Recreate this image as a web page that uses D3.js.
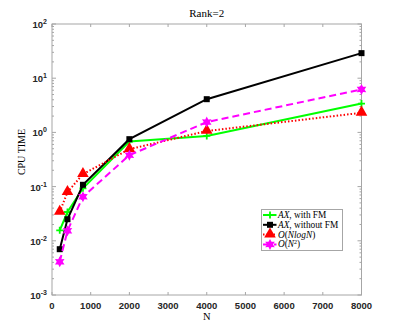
<!DOCTYPE html>
<html>
<head>
<meta charset="utf-8">
<script src="https://cdn.jsdelivr.net/npm/d3@7"></script>
<style>
  body { margin: 0; background: #fff; }
  svg { display: block; }
</style>
</head>
<body>
<div id="chart"></div>
<script>
// Problem sizes
var sizes = [200, 400, 800, 2000, 4000, 8000];
// CPU times for each method
var withFM = [0.0156, 0.034, 0.093, 0.68, 0.86, 3.4];
var withoutFM = [0.007, 0.025, 0.108, 0.75, 4.1, 29];
var nlogn = [0.034, 0.079, 0.17, 0.49, 1.06, 2.3];
var nsquare = [0.0041, 0.0153, 0.065, 0.38, 1.55, 6.2];

var xTicks = [0, 1000, 2000, 3000, 4000, 5000, 6000, 7000, 8000];
var yTicks = [1e-3, 1e-2, 1e-1, 1e0, 1e1, 1e2];
var yExps = ["-3", "-2", "-1", "0", "1", "2"];

function init() {
  var W = 399, H = 332;
  var mLeft = 52, mRight = 361.5, mTop = 24, mBottom = 295;

  var svg = d3.select("#chart").append("svg").attr("width", W).attr("height", H);

  var x = d3.scaleLinear().domain([0, 8000]).range([mLeft, mRight]);
  var y = d3.scaleLog().domain([1e-3, 1e2]).range([mBottom, mTop]);

  var axisColor = "#a6a6a6";

  // axis box
  svg.append("rect")
    .attr("x", mLeft).attr("y", mTop)
    .attr("width", mRight - mLeft).attr("height", mBottom - mTop)
    .attr("fill", "none").attr("stroke", axisColor).attr("stroke-width", 1);

  // x ticks (inward, top and bottom)
  xTicks.forEach(function (t) {
    svg.append("line").attr("x1", x(t)).attr("x2", x(t))
      .attr("y1", mBottom).attr("y2", mBottom - 3).attr("stroke", axisColor);
    svg.append("line").attr("x1", x(t)).attr("x2", x(t))
      .attr("y1", mTop).attr("y2", mTop + 3).attr("stroke", axisColor);
    svg.append("text").attr("x", x(t)).attr("y", mBottom + 14)
      .attr("text-anchor", "middle")
      .style("font-family", "Liberation Sans, Arial, sans-serif")
      .style("font-weight", "bold").style("font-size", "9.5px")
      .attr("fill", "#262626").text(t);
  });

  // y ticks, major and minor on both sides
  for (var e = -3; e < 2; e++) {
    for (var m = 2; m <= 9; m++) {
      var v = m * Math.pow(10, e);
      svg.append("line").attr("x1", mLeft).attr("x2", mLeft + 2)
        .attr("y1", y(v)).attr("y2", y(v)).attr("stroke", axisColor);
      svg.append("line").attr("x1", mRight).attr("x2", mRight - 2)
        .attr("y1", y(v)).attr("y2", y(v)).attr("stroke", axisColor);
    }
  }
  yTicks.forEach(function (t, i) {
    svg.append("line").attr("x1", mLeft).attr("x2", mLeft + 4)
      .attr("y1", y(t)).attr("y2", y(t)).attr("stroke", axisColor);
    svg.append("line").attr("x1", mRight).attr("x2", mRight - 4)
      .attr("y1", y(t)).attr("y2", y(t)).attr("stroke", axisColor);
    var lab = svg.append("text").attr("x", mLeft - 5).attr("y", y(t) + 4)
      .attr("text-anchor", "end")
      .style("font-family", "Liberation Sans, Arial, sans-serif")
      .style("font-weight", "bold").style("font-size", "9.5px")
      .attr("fill", "#262626");
    lab.append("tspan").text("10");
    lab.append("tspan").attr("dy", -4).style("font-size", "7px").text(yExps[i]);
  });

  // title and labels
  svg.append("text").attr("x", (mLeft + mRight) / 2).attr("y", 17)
    .attr("text-anchor", "middle")
    .style("font-family", "Liberation Serif, Times New Roman, serif")
    .style("font-size", "11px").text("Rank=2");
  svg.append("text").attr("x", (mLeft + mRight) / 2).attr("y", 320)
    .attr("text-anchor", "middle")
    .style("font-family", "Liberation Serif, Times New Roman, serif")
    .style("font-size", "10.5px").text("N");
  svg.append("text")
    .attr("transform", "translate(25,152) rotate(-90)")
    .attr("text-anchor", "middle")
    .style("font-family", "Liberation Serif, Times New Roman, serif")
    .style("font-size", "10px").text("CPU TIME");

  var series = [
    { values: withFM, color: "#00ff00", dash: null, marker: "plus" },
    { values: withoutFM, color: "#000000", dash: null, marker: "square" },
    { values: nlogn, color: "#ff0000", dash: "1.5,2", marker: "triangle" },
    { values: nsquare, color: "#ff00ff", dash: "7,4", marker: "star" }
  ];

  var line = d3.line().x(function (d) { return x(d[0]); }).y(function (d) { return y(d[1]); });

  function drawMarker(g, type, cx, cy, color) {
    if (type === "plus") {
      g.append("path").attr("d", "M" + (cx - 3.5) + "," + cy + "H" + (cx + 3.5) + "M" + cx + "," + (cy - 3.5) + "V" + (cy + 3.5))
        .attr("stroke", color).attr("stroke-width", 1.8).attr("fill", "none");
    } else if (type === "square") {
      g.append("rect").attr("x", cx - 3).attr("y", cy - 3).attr("width", 6).attr("height", 6)
        .attr("fill", color);
    } else if (type === "triangle") {
      g.append("path").attr("d", d3.symbol().type(d3.symbolTriangle).size(58)())
        .attr("transform", "translate(" + cx + "," + (cy - 0.5) + ")").attr("fill", color);
    } else if (type === "star") {
      var pts = [];
      for (var k = 0; k < 12; k++) {
        var r = k % 2 === 0 ? 5.5 : 3;
        var a = Math.PI / 2 + k * Math.PI / 6;
        pts.push([cx + r * Math.cos(a), cy - r * Math.sin(a)]);
      }
      g.append("path").attr("d", "M" + pts.join("L") + "Z").attr("fill", color);
    }
  }

  series.forEach(function (s) {
    var pts = sizes.map(function (n, i) { return [n, s.values[i]]; });
    svg.append("path").datum(pts).attr("d", line)
      .attr("fill", "none").attr("stroke", s.color).attr("stroke-width", 2)
      .attr("stroke-dasharray", s.dash);
    var g = svg.append("g");
    pts.forEach(function (p) { drawMarker(g, s.marker, x(p[0]), y(p[1]), s.color); });
  });

  // legend: each label is a list of [text, italic, superscript, drop back]
  var legendLabels = [
    [["AX", true], [", with FM", false]],
    [["AX", true], [", without FM", false]],
    [["O", true], ["(", false], ["NlogN", true], [")", false]],
    [["O", true], ["(", false], ["N", true], ["2", false, true], [")", false, false, true]]
  ];
  var lg = svg.append("g");
  lg.append("rect").attr("x", 261.5).attr("y", 209.5).attr("width", 81).attr("height", 41)
    .attr("fill", "#fff").attr("stroke", axisColor);
  series.forEach(function (s, i) {
    var ly = 215 + i * 9.8;
    lg.append("line").attr("x1", 263).attr("x2", 276.5).attr("y1", ly).attr("y2", ly)
      .attr("stroke", s.color).attr("stroke-width", 2).attr("stroke-dasharray", s.dash);
    drawMarker(lg, s.marker, 270, ly, s.color);
    var t = lg.append("text").attr("x", 278).attr("y", ly + 3)
      .style("font-family", "Liberation Serif, Times New Roman, serif")
      .style("font-size", "9.3px");
    legendLabels[i].forEach(function (part) {
      var sp = t.append("tspan").text(part[0]);
      if (part[1]) sp.style("font-style", "italic");
      if (part[2]) sp.attr("dy", -3).style("font-size", "6px");
      if (part[3]) sp.attr("dy", 3);
    });
  });
}

window.onload = init;
</script>
</body>
</html>
